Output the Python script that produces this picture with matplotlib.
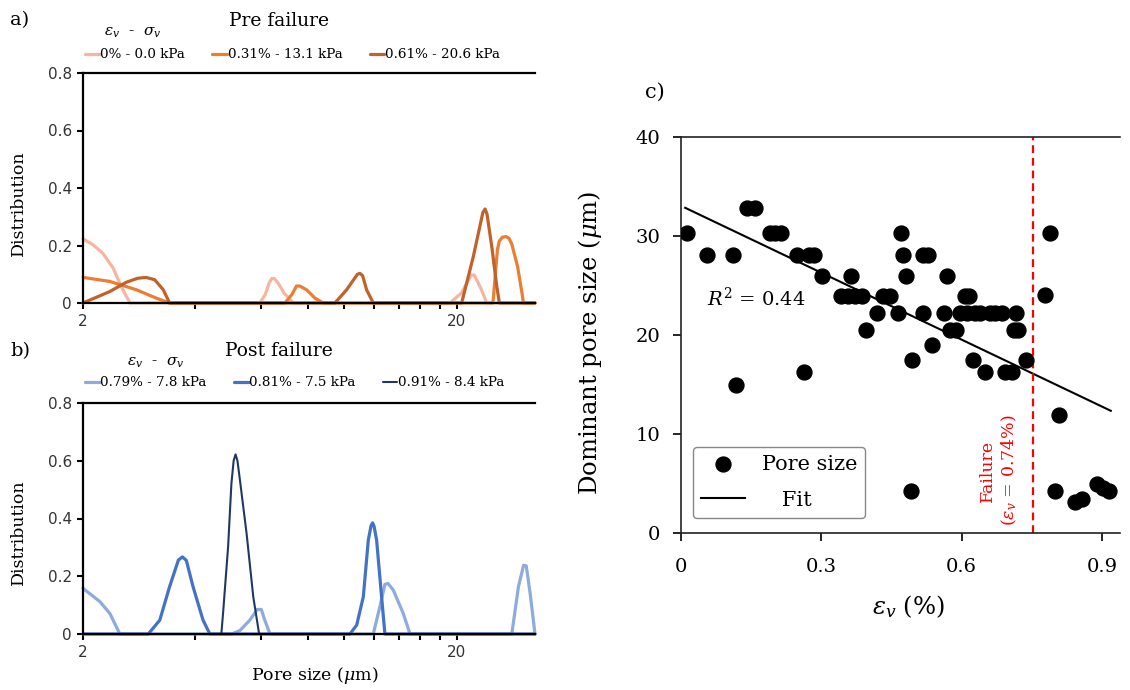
import numpy as np
import matplotlib.pyplot as plt
from matplotlib.ticker import FixedLocator, NullFormatter

plt.rcParams['font.family'] = 'DejaVu Serif'
plt.rcParams['mathtext.fontset'] = 'dejavuserif'

W, H = 1130, 690

# ---- a) pre failure pore size distributions (pore size in um) ----
pre_labels = ['0% - 0.0 kPa', '0.31% - 13.1 kPa', '0.61% - 20.6 kPa']
pre_colors = ['#F4B6A0', '#ED7D31', '#C0622A']

x_pre0 = [2.0, 2.13, 2.26, 2.41, 2.53, 2.67, 5.95, 6.15, 6.3, 6.4, 6.5, 6.65, 6.9, 7.3,
          19.2, 20.6, 21.4, 21.9, 22.3, 23.3, 24.06, 32.4]
y_pre0 = [0.223, 0.202, 0.173, 0.121, 0.058, 0, 0, 0.03, 0.07, 0.085, 0.085, 0.07, 0.035, 0,
          0, 0.035, 0.075, 0.097, 0.097, 0.046, 0, 0]

x_pre1 = [2.0, 2.36, 2.78, 3.14, 3.41, 6.94, 7.25, 7.45, 7.6, 7.93, 8.35, 8.79,
          25.0, 25.34, 25.7, 26.0, 26.5, 27.1, 27.6, 28.08, 29.1, 29.9, 30.18, 32.4]
y_pre1 = [0.089, 0.075, 0.046, 0.017, 0, 0, 0.03, 0.059, 0.059, 0.046, 0.017, 0,
          0, 0.09, 0.185, 0.215, 0.229, 0.231, 0.225, 0.205, 0.127, 0.035, 0, 0]

x_pre2 = [2.0, 2.36, 2.61, 2.80, 2.95, 3.11, 3.28, 3.41, 9.44, 10.15, 10.85, 11.02, 11.2,
          11.48, 11.96, 20.62, 22.16, 23.5, 23.82, 24.1, 24.82, 25.6, 26.02, 32.4]
y_pre2 = [0, 0.04, 0.072, 0.086, 0.089, 0.081, 0.046, 0, 0, 0.046, 0.1, 0.103, 0.095,
          0.046, 0, 0, 0.162, 0.315, 0.327, 0.31, 0.197, 0.058, 0, 0]

# ---- b) post failure ----
post_labels = ['0.79% - 7.8 kPa', '0.81% - 7.5 kPa', '0.91% - 8.4 kPa']
post_colors = ['#8FAADC', '#4472C4', '#203864']

x_post0 = [2.0, 2.22, 2.36, 2.51, 5.0, 5.26, 5.59, 5.85, 6.0, 6.13, 6.33,
           11.96, 12.46, 12.85, 13.1, 13.53, 14.39, 15.0, 28.08, 29.26, 30.2, 30.7, 31.44, 32.4]
y_post0 = [0.158, 0.112, 0.071, 0, 0, 0.012, 0.048, 0.085, 0.085, 0.048, 0,
           0, 0.095, 0.172, 0.175, 0.152, 0.071, 0, 0, 0.164, 0.238, 0.236, 0.141, 0]

x_post1 = [2.0, 2.99, 3.08, 3.21, 3.41, 3.6, 3.69, 3.78, 3.94, 4.19, 4.37,
           10.36, 10.8, 11.25, 11.6, 11.8, 11.91, 12.02, 12.21, 12.59, 12.85, 32.4]
y_post1 = [0, 0, 0.02, 0.048, 0.164, 0.256, 0.267, 0.255, 0.164, 0.048, 0,
           0, 0.031, 0.129, 0.325, 0.375, 0.385, 0.373, 0.325, 0.129, 0, 0]

x_post2 = [2.0, 4.69, 4.74, 4.89, 4.99, 5.06, 5.12, 5.18, 5.26, 5.48, 5.71, 5.92, 32.4]
y_post2 = [0, 0, 0.071, 0.302, 0.52, 0.6, 0.622, 0.6, 0.533, 0.348, 0.129, 0, 0]

# ---- c) dominant pore size vs volumetric strain ----
eps_v = [0.012, 0.055, 0.112, 0.142, 0.158, 0.19, 0.202, 0.214, 0.249, 0.274, 0.285,
         0.301, 0.363, 0.342, 0.358, 0.372, 0.386, 0.42, 0.395, 0.431, 0.447, 0.465,
         0.470, 0.475, 0.481, 0.518, 0.529, 0.518, 0.568, 0.563, 0.607, 0.616,
         0.597, 0.612, 0.629, 0.640, 0.661, 0.672, 0.686, 0.716,
         0.575, 0.589, 0.711, 0.721, 0.537, 0.495, 0.624, 0.738,
         0.262, 0.65, 0.693, 0.707, 0.117, 0.788, 0.778, 0.809,
         0.491, 0.80, 0.842, 0.857, 0.889, 0.903, 0.916]
pore = [30.3, 28.1, 28.1, 32.8, 32.8, 30.3, 30.3, 30.3, 28.1, 28.1, 28.1,
        26.0, 26.0, 23.9, 23.9, 23.9, 23.9, 22.2, 20.5, 23.9, 23.9, 22.2,
        30.3, 28.1, 26.0, 28.1, 28.1, 22.2, 26.0, 22.2, 23.9, 23.9,
        22.2, 22.2, 22.2, 22.2, 22.2, 22.2, 22.2, 22.2,
        20.5, 20.5, 20.5, 20.5, 19.0, 17.5, 17.5, 17.5,
        16.3, 16.3, 16.3, 16.3, 15.0, 30.3, 24.0, 11.9,
        4.25, 4.25, 3.1, 3.4, 5.0, 4.5, 4.25]
fit_intercept = 33.05
fit_slope = -22.53
fit_range = [0.009, 0.919]
failure_eps = 0.752

fig = plt.figure(figsize=(W / 100, H / 100), dpi=100)


def box(x0, y0, x1, y1):
    return [x0 / W, 1 - y1 / H, (x1 - x0) / W, (y1 - y0) / H]


def style_dist(ax):
    ax.set_xscale('log')
    ax.set_xlim(2, 32.4)
    ax.set_ylim(0, 0.8)
    ax.set_xticks([2, 20])
    ax.set_xticklabels(['2', '20'])
    ax.xaxis.set_minor_locator(FixedLocator(list(range(4, 20, 2))))
    ax.xaxis.set_minor_formatter(NullFormatter())
    ax.set_yticks([0, 0.2, 0.4, 0.6, 0.8])
    ax.set_yticklabels(['0', '0.2', '0.4', '0.6', '0.8'])
    ax.spines['right'].set_visible(False)
    for s in ['left', 'bottom', 'top']:
        ax.spines[s].set_linewidth(1.6)
    ax.tick_params(which='both', direction='out', length=4, width=1.5, pad=4,
                   labelsize=11, labelcolor='#333333', labelfontfamily='DejaVu Sans')


ax_a = fig.add_axes(box(83, 73, 535, 303))
ax_b = fig.add_axes(box(83, 403, 535, 634))
style_dist(ax_a)
style_dist(ax_b)

for xs, ys, c, lab in zip([x_pre0, x_pre1, x_pre2], [y_pre0, y_pre1, y_pre2],
                          pre_colors, pre_labels):
    ax_a.plot(xs, ys, color=c, lw=2.3, label=lab, clip_on=False,
              solid_joinstyle='round', solid_capstyle='round')

for xs, ys, c, lab, lw in zip([x_post0, x_post1, x_post2], [y_post0, y_post1, y_post2],
                              post_colors, post_labels, [2.3, 2.3, 1.5]):
    ax_b.plot(xs, ys, color=c, lw=lw, label=lab, clip_on=False,
              solid_joinstyle='round', solid_capstyle='round')

for ax, y in [(ax_a, 55), (ax_b, 383)]:
    h, l = ax.get_legend_handles_labels()
    fig.legend(h, l, ncol=3, loc='center left', bbox_to_anchor=(85 / W, 1 - y / H),
               frameon=False, fontsize=9.7, handlelength=1.1, handletextpad=0.05,
               columnspacing=2.0, borderpad=0, borderaxespad=0)

fig.text(20 / W, 1 - 20 / H, 'a)', fontsize=14, ha='center', va='center')
fig.text(20 / W, 1 - 351 / H, 'b)', fontsize=14, ha='center', va='center')
fig.text(279 / W, 1 - 21 / H, 'Pre failure', fontsize=13.5, ha='center', va='center')
fig.text(279 / W, 1 - 351 / H, 'Post failure', fontsize=13.5, ha='center', va='center')
fig.text(133 / W, 1 - 33 / H, r'$\varepsilon_v$  -  $\sigma_v$', fontsize=11,
         ha='center', va='center')
fig.text(156 / W, 1 - 363 / H, r'$\varepsilon_v$  -  $\sigma_v$', fontsize=11,
         ha='center', va='center')
fig.text(18 / W, 1 - 203 / H, 'Distribution', fontsize=12.5, rotation=90,
         ha='center', va='center')
fig.text(18 / W, 1 - 532 / H, 'Distribution', fontsize=12.5, rotation=90,
         ha='center', va='center')
fig.text(315 / W, 1 - 675 / H, r'Pore size ($\mu$m)', fontsize=12.5,
         ha='center', va='center')

# ---- panel c ----
ax_c = fig.add_axes(box(681, 137, 1120, 533))
ax_c.scatter(eps_v, pore, s=115, color='black', zorder=3, label='Pore size')
fx = np.array(fit_range)
ax_c.plot(fx, fit_intercept + fit_slope * fx, color='black', lw=1.5, label='   Fit')
ax_c.axvline(failure_eps, color='red', lw=1.6, dashes=(3.5, 2.2))
ax_c.set_xlim(0, 0.9387)
ax_c.set_ylim(0, 40)
ax_c.set_xticks([0, 0.3, 0.6, 0.9])
ax_c.set_xticklabels(['0', '0.3', '0.6', '0.9'])
ax_c.set_yticks([0, 10, 20, 30, 40])
ax_c.spines['right'].set_visible(False)
for s in ['left', 'bottom', 'top']:
    ax_c.spines[s].set_linewidth(1.2)
    ax_c.spines[s].set_color('#222222')
ax_c.tick_params(direction='out', length=6, width=1.2, labelsize=14)
ax_c.tick_params(axis='x', pad=12)
ax_c.tick_params(axis='y', pad=9)
ax_c.text(0.055, 23.7, r'$R^2$ = 0.44', fontsize=14, ha='left', va='center')
ax_c.text(0.68, 6.3, 'Failure\n' + r'($\varepsilon_v$ = 0.74%)', color='red',
          fontsize=12.5, rotation=90, ha='center', va='center', multialignment='center')
ax_c.legend(loc='lower left', bbox_to_anchor=(0.027, 0.038), borderaxespad=0,
            fontsize=15, handlelength=2.1, labelspacing=0.8, fancybox=True,
            edgecolor='#888888', framealpha=1)
fig.text(655 / W, 1 - 92 / H, 'c)', fontsize=15, ha='center', va='center')
fig.text(590 / W, 1 - 343 / H, r'Dominant pore size ($\mu$m)', fontsize=17.5,
         rotation=90, ha='center', va='center')
fig.text(908 / W, 1 - 607 / H, r'$\varepsilon_v$ (%)', fontsize=17.5,
         ha='center', va='center')

fig.savefig('out.png', dpi=100)
